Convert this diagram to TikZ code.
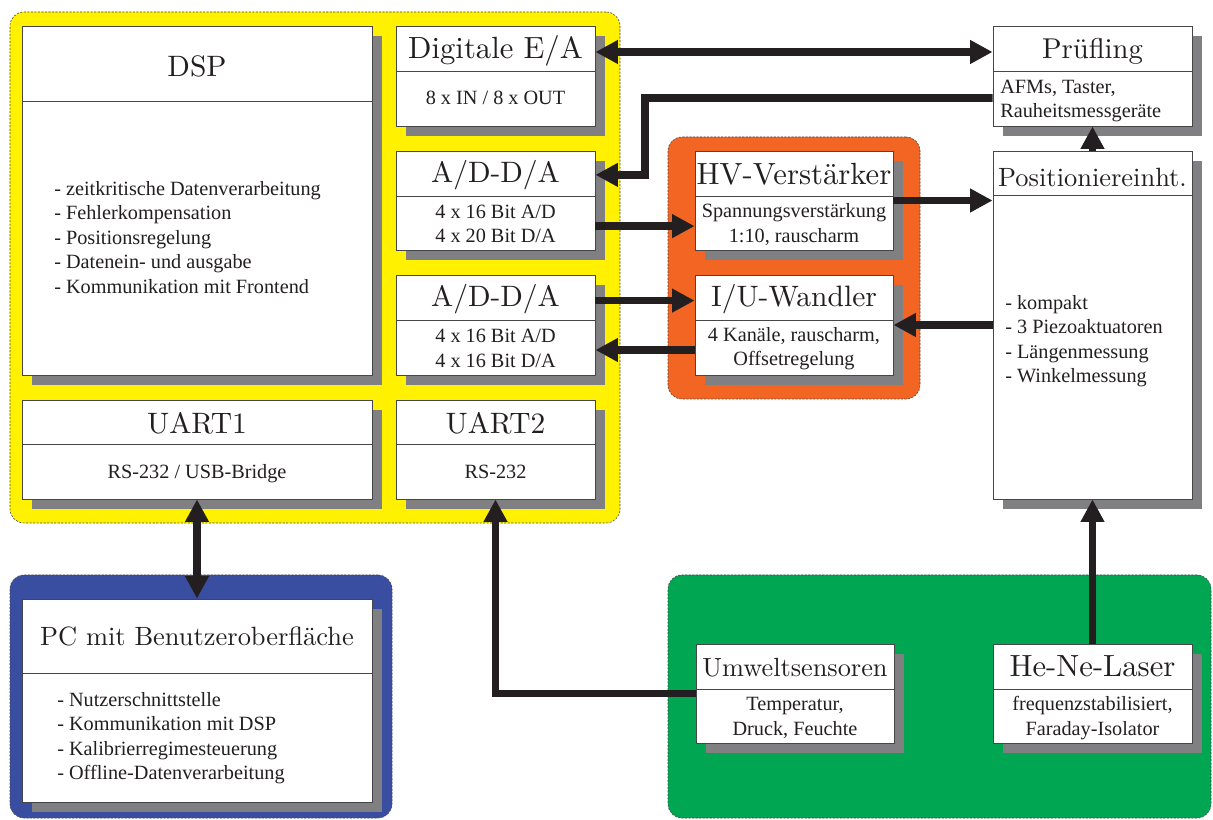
\documentclass[tikz,border=0pt]{standalone}
\usepackage{fontspec}
\setmainfont{Liberation Serif}
\newfontfamily\lmtitle{lmroman10-regular}[Extension=.otf]
\usetikzlibrary{arrows.meta,shadows,fit}

\definecolor{gelb}{RGB}{255,241,0}
\definecolor{orangeton}{RGB}{242,101,34}
\definecolor{blauton}{RGB}{57,78,160}
\definecolor{gruenton}{RGB}{0,166,81}
\definecolor{schatten}{RGB}{128,128,131}
\definecolor{pfeil}{RGB}{35,31,32}
\definecolor{rahmen}{RGB}{70,70,72}

\begin{document}
\begin{tikzpicture}[x=0.025cm, y=-0.025cm, >={Triangle[length=16pt,width=16pt]}]
\tikzset{board/.style={draw=rahmen, dash pattern=on 1.5pt off 1pt, line width=0.4pt,
                       rounded corners=0.35cm, inner sep=0pt},
         block/.style={draw=rahmen, fill=white, inner sep=0pt, line width=0.6pt,
                       drop shadow={shadow xshift=0.25cm, shadow yshift=-0.25cm,
                                    opacity=1, fill=schatten}},
         trenn/.style={draw=rahmen, line width=0.6pt},
         ttl/.style={font=\lmtitle\fontsize{21}{24}\selectfont, text=pfeil,
                     inner sep=0pt, anchor=base},
         txt/.style={font=\fontsize{14.4}{17.4}\selectfont, text=pfeil,
                     inner sep=0pt, align=center},
         conn/.style={draw=pfeil, line width=5.5pt}}
\useasboundingbox (0,0) rectangle (1213,820);

% Baugruppen
\node[board, fill=gelb, fit={(10,12) (620,523)}] (dspboard) {};
\node[board, fill=orangeton, fit={(668,137) (920,399)}] (hvboard) {};
\node[board, fill=blauton, fit={(10,575) (392,818)}] (pcboard) {};
\node[board, fill=gruenton, fit={(668,575) (1211,818)}] (sensboard) {};

% Bloecke
\node[block, fit={(22,26) (372,375)}] (dsp) {};
\node[block, fit={(396,26) (595,126)}] (digea) {};
\node[block, fit={(396,151) (595,250)}] (adda1) {};
\node[block, fit={(396,275) (595,375)}] (adda2) {};
\node[block, fit={(22,400) (372,499)}] (uart1) {};
\node[block, fit={(396,400) (595,499)}] (uart2) {};
\node[block, fit={(695,151) (893,250)}] (hv) {};
\node[block, fit={(695,275) (893,375)}] (iu) {};
\node[block, fit={(993,26) (1192,126)}] (pruef) {};
\node[block, fit={(993,151) (1192,499)}] (pos) {};
\node[block, fit={(22,599) (372,802)}] (pc) {};
\node[block, fit={(696,644) (894,743)}] (umwelt) {};
\node[block, fit={(993,644) (1192,743)}] (laser) {};

\draw[trenn] (22,101) -- (372,101);
\draw[trenn] (396,71.5) -- (595,71.5);
\draw[trenn] (396,196) -- (595,196);
\draw[trenn] (396,320) -- (595,320);
\draw[trenn] (22,444.5) -- (372,444.5);
\draw[trenn] (396,444.5) -- (595,444.5);
\draw[trenn] (695,196) -- (893,196);
\draw[trenn] (695,320) -- (893,320);
\draw[trenn] (993,71.5) -- (1192,71.5);
\draw[trenn] (993,195.5) -- (1192,195.5);
\draw[trenn] (22,673) -- (372,673);
\draw[trenn] (696,689) -- (894,689);
\draw[trenn] (993,689) -- (1192,689);

% Titel
\node[ttl] (dsp-t) at (197,77) {DSP};
\node[ttl, font=\lmtitle\fontsize{21.8}{24}\selectfont] (digea-t) at (495.5,58.5) {Digitale E/A};
\node[ttl] (adda1-t) at (495.5,183) {A/D-D/A};
\node[ttl] (adda2-t) at (495.5,307) {A/D-D/A};
\node[ttl] (uart1-t) at (197,434) {UART1};
\node[ttl] (uart2-t) at (495.5,434) {UART2};
\node[ttl, font=\lmtitle\fontsize{21.8}{24}\selectfont] (hv-t) at (794,184.5) {HV-Verst\"arker};
\node[ttl] (iu-t) at (794,307) {I/U-Wandler};
\node[ttl, font=\lmtitle\fontsize{20.4}{24}\selectfont] (pruef-t) at (1092.5,59) {Pr\"ufling};
\node[ttl, font=\lmtitle\fontsize{18.8}{24}\selectfont] (pos-t) at (1092.5,186.5) {Positioniereinht.};
\node[ttl, font=\lmtitle\fontsize{18.8}{24}\selectfont] (pc-t) at (197,646) {PC mit Benutzeroberfl\"ache};
\node[ttl, font=\lmtitle\fontsize{18.7}{24}\selectfont] (umwelt-t) at (795,676) {Umweltsensoren};
\node[ttl, font=\lmtitle\fontsize{21.8}{24}\selectfont] (laser-t) at (1092.5,676) {He-Ne-Laser};

% Beschreibungen
\node[txt, align=left, anchor=west] (dsp-b) at (54,237.5)
    {- zeitkritische Datenverarbeitung\\- Fehlerkompensation\\- Positionsregelung\\- Datenein- und ausgabe\\- Kommunikation mit Frontend};
\node[txt, anchor=base] (digea-b) at (495.5,105) {8 x IN / 8 x OUT};
\node[txt] (adda1-b) at (495.5,224) {4 x 16 Bit A/D\\4 x 20 Bit D/A};
\node[txt] (adda2-b) at (495.5,348.5) {4 x 16 Bit A/D\\4 x 16 Bit D/A};
\node[txt, anchor=base] (uart1-b) at (197,479) {RS-232 / USB-Bridge};
\node[txt, anchor=base] (uart2-b) at (495.5,479) {RS-232};
\node[txt] (hv-b) at (794,224.5) {Spannungsverst\"arkung\\1:10, rauscharm};
\node[txt] (iu-b) at (794,348.5) {4 Kan\"ale, rauscharm,\\Offsetregelung};
\node[txt, align=left, anchor=west] (pruef-b) at (1000,101) {AFMs, Taster,\\Rauheitsmessger\"ate};
\node[txt, align=left, anchor=west] (pos-b) at (1005,341)
    {- kompakt\\- 3 Piezoaktuatoren\\- L\"angenmessung\\- Winkelmessung};
\node[txt, align=left, anchor=west] (pc-b) at (57,738)
    {- Nutzerschnittstelle\\- Kommunikation mit DSP\\- Kalibrierregimesteuerung\\- Offline-Datenverarbeitung};
\node[txt] (umwelt-b) at (795,718) {Temperatur,\\Druck, Feuchte};
\node[txt] (laser-b) at (1092.5,718) {frequenzstabilisiert,\\Faraday-Isolator};

% Verbindungen
\coordinate (knick) at (645,98);
\draw[conn, <->] ([yshift=0.6cm]digea.east) -- ([yshift=0.6cm]pruef.west);
\draw[conn, ->] ([yshift=-0.55cm]pruef.west) -- (knick) |- ([yshift=0.64cm]adda1.east);
\draw[conn, ->] ([yshift=-0.64cm]adda1.east) -- ([yshift=-0.64cm]hv.west);
\draw[conn, ->] ([yshift=0.61cm]adda2.east) -- ([yshift=0.61cm]iu.west);
\draw[conn, ->] ([yshift=-0.625cm]iu.west) -- ([yshift=-0.625cm]adda2.east);
\draw[conn, ->] (hv.east) -- (pos.west |- hv.east);
\draw[conn, ->] (pos.west |- iu.east) -- (iu.east);
\draw[conn, ->] (pos.north) -- (pruef.south);
\draw[conn, ->] (laser.north) -- (pos.south);
\draw[conn, <->] (uart1.south) -- (pc.north);
\draw[conn, ->] (umwelt.west) -| (uart2.south);
\end{tikzpicture}
\end{document}
